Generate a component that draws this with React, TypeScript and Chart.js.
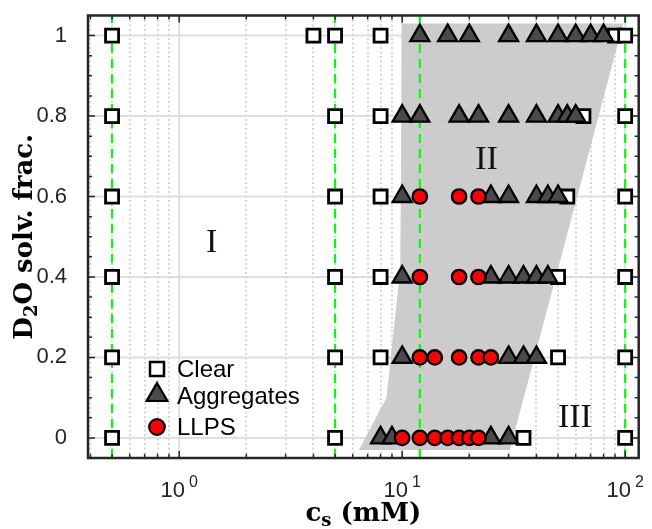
import React, { useEffect, useRef } from 'react';
import { Chart, registerables } from 'chart.js';

Chart.register(...registerables);

const X_MIN = 0.39;
const X_MAX = 115;
const Y_MIN = -0.05;
const Y_MAX = 1.05;

const d2oFractions = [0, 0.2, 0.4, 0.6, 0.8, 1];
const clearRows = [
  [0.5, 5, 35, 100],
  [0.5, 5, 8, 50, 100],
  [0.5, 5, 8, 50, 100],
  [0.5, 5, 8, 55, 100],
  [0.5, 5, 8, 65, 100],
  [0.5, 4, 5, 8, 90, 100],
];
const aggregateRows = [
  [8, 9, 25, 30],
  [10, 30, 35, 40],
  [10, 25, 30, 35, 40, 45],
  [10, 25, 30, 40, 45, 50],
  [10, 12, 18, 22, 30, 40, 50, 55, 60],
  [12, 16, 20, 30, 40, 50, 60, 70, 80],
];
const llpsRows = [
  [10, 12, 14, 16, 18, 20, 22],
  [12, 14, 18, 22, 25],
  [12, 18, 22],
  [12, 18, 22],
  [],
  [],
];
const boundaryLines = [0.5, 5, 12, 100];
const regionIIX = [6.4, 8.5, 9.8, 10, 98, 30.4];
const regionIIY = [-0.03, 0.1, 0.42, 1.03, 1.03, -0.03];
const xMajorTicks = [1, 10, 100];
const xTickExponents = ['0', '1', '2'];
const xMinorTicks = [0.4, 0.5, 0.6, 0.7, 0.8, 0.9, 2, 3, 4, 5, 6, 7, 8, 9, 20, 30, 40, 50, 60, 70, 80, 90];
const yTicks = [0, 0.2, 0.4, 0.6, 0.8, 1];
const yTickLabels = ['0', '0.2', '0.4', '0.6', '0.8', '1'];
const yMinorTicks = [0.05, 0.1, 0.15, 0.25, 0.3, 0.35, 0.45, 0.5, 0.55, 0.65, 0.7, 0.75, 0.85, 0.9, 0.95];
const regionLabels = ['I', 'II', 'III'];
const legendLabels = ['Clear', 'Aggregates', 'LLPS'];

// annotation anchors (data coordinates)
const REGION_LABEL_POS = [
  { x: 1.4, y: 0.49 },
  { x: 23.9, y: 0.696 },
  { x: 59.5, y: 0.055 },
];

const toPoints = (rows: number[][]) =>
  rows.flatMap((r, i) => r.map((x) => ({ x, y: d2oFractions[i] })));

const AXIS = '#262626';
const SANS = '"Liberation Sans", Arial, sans-serif';
const SERIF_B = '"DejaVu Serif", serif';

function drawTri(ctx: CanvasRenderingContext2D, x: number, y: number, r: number) {
  ctx.beginPath();
  ctx.moveTo(x, y - r);
  ctx.lineTo(x + 0.866 * r, y + 0.5 * r);
  ctx.lineTo(x - 0.866 * r, y + 0.5 * r);
  ctx.closePath();
}

const decorPlugin = {
  id: 'decor',
  beforeDatasetsDraw(chart: any) {
    const { ctx, chartArea: a, scales } = chart;
    const xs = scales.x;
    const ys = scales.y;
    ctx.save();
    ctx.beginPath();
    ctx.rect(a.left, a.top, a.right - a.left, a.bottom - a.top);
    ctx.clip();
    ctx.strokeStyle = '#cdcdcd';
    ctx.lineWidth = 1.6;
    ctx.setLineDash([2, 2.5]);
    for (const v of xMinorTicks) {
      const px = Math.round(xs.getPixelForValue(v));
      ctx.beginPath();
      ctx.moveTo(px, a.top);
      ctx.lineTo(px, a.bottom);
      ctx.stroke();
    }
    ctx.setLineDash([]);
    ctx.strokeStyle = '#dedede';
    ctx.lineWidth = 2;
    for (const v of xMajorTicks) {
      const px = xs.getPixelForValue(v);
      ctx.beginPath();
      ctx.moveTo(px, a.top);
      ctx.lineTo(px, a.bottom);
      ctx.stroke();
    }
    for (const v of yTicks) {
      const py = ys.getPixelForValue(v);
      ctx.beginPath();
      ctx.moveTo(a.left, py);
      ctx.lineTo(a.right, py);
      ctx.stroke();
    }
    ctx.restore();
  },
  afterDatasetsDraw(chart: any) {
    const { ctx, chartArea: a, scales } = chart;
    const xs = scales.x;
    const ys = scales.y;
    ctx.save();
    ctx.strokeStyle = AXIS;
    ctx.lineWidth = 1.5;
    const tickX = (v: number, len: number) => {
      const px = xs.getPixelForValue(v);
      ctx.beginPath();
      ctx.moveTo(px, a.bottom);
      ctx.lineTo(px, a.bottom - len);
      ctx.moveTo(px, a.top);
      ctx.lineTo(px, a.top + len);
      ctx.stroke();
    };
    const tickY = (v: number, len: number) => {
      const py = ys.getPixelForValue(v);
      ctx.beginPath();
      ctx.moveTo(a.left, py);
      ctx.lineTo(a.left + len, py);
      ctx.moveTo(a.right, py);
      ctx.lineTo(a.right - len, py);
      ctx.stroke();
    };
    xMinorTicks.forEach((v) => tickX(v, 4));
    xMajorTicks.forEach((v) => tickX(v, 7));
    yMinorTicks.forEach((v) => tickY(v, 4));
    yTicks.forEach((v) => tickY(v, 7));
    ctx.lineWidth = 2.5;
    ctx.strokeRect(a.left, a.top, a.right - a.left, a.bottom - a.top);

    // x tick labels 10^n
    ctx.fillStyle = AXIS;
    ctx.textBaseline = 'alphabetic';
    ctx.textAlign = 'left';
    xMajorTicks.forEach((v, i) => {
      const px = xs.getPixelForValue(v);
      ctx.font = `22px ${SANS}`;
      const wBase = ctx.measureText('10').width;
      ctx.font = `16px ${SANS}`;
      const wExp = ctx.measureText(xTickExponents[i]).width;
      const gap = 4;
      const x0 = px - (wBase + gap + wExp) / 2;
      ctx.font = `22px ${SANS}`;
      ctx.fillText('10', x0, a.bottom + 39);
      ctx.font = `16px ${SANS}`;
      ctx.fillText(xTickExponents[i], x0 + wBase + gap, a.bottom + 29);
    });

    // x axis title
    ctx.fillStyle = '#000';
    const midX = (a.left + a.right) / 2;
    ctx.font = `bold 26px ${SERIF_B}`;
    const wc = ctx.measureText('c').width;
    const wRest = ctx.measureText(' (mM)').width;
    ctx.font = `bold 18px ${SERIF_B}`;
    const ws = ctx.measureText('s').width;
    const tx0 = midX - (wc + ws + wRest) / 2;
    const tb = 521;
    ctx.font = `bold 26px ${SERIF_B}`;
    ctx.fillText('c', tx0, tb);
    ctx.font = `bold 18px ${SERIF_B}`;
    ctx.fillText('s', tx0 + wc, tb + 5);
    ctx.font = `bold 26px ${SERIF_B}`;
    ctx.fillText(' (mM)', tx0 + wc + ws, tb);

    // y axis title
    ctx.save();
    const midY = (a.top + a.bottom) / 2;
    ctx.translate(32, midY);
    ctx.rotate(-Math.PI / 2);
    ctx.font = `bold 26px ${SERIF_B}`;
    const wD = ctx.measureText('D').width;
    const wTail = ctx.measureText('O solv. frac.').width;
    ctx.font = `bold 18px ${SERIF_B}`;
    const w2 = ctx.measureText('2').width;
    const y0 = -(wD + w2 + wTail) / 2;
    ctx.font = `bold 26px ${SERIF_B}`;
    ctx.fillText('D', y0, 0);
    ctx.font = `bold 18px ${SERIF_B}`;
    ctx.fillText('2', y0 + wD, 5);
    ctx.font = `bold 26px ${SERIF_B}`;
    ctx.fillText('O solv. frac.', y0 + wD + w2, 0);
    ctx.restore();

    // region labels
    ctx.font = `34px "Liberation Serif", serif`;
    ctx.textAlign = 'center';
    ctx.fillStyle = '#111';
    regionLabels.forEach((t, i) => {
      const p = REGION_LABEL_POS[i];
      ctx.fillText(t, xs.getPixelForValue(p.x), ys.getPixelForValue(p.y) + 11);
    });

    // legend
    const lx = a.left + 69;
    const rowsY = [369, 395, 427];
    ctx.lineWidth = 2.5;
    ctx.strokeStyle = '#000';
    ctx.fillStyle = '#fff';
    ctx.beginPath();
    ctx.rect(lx - 7, rowsY[0] - 7, 14, 14);
    ctx.fill();
    ctx.stroke();
    ctx.lineWidth = 2.2;
    ctx.fillStyle = '#4a4a4a';
    drawTri(ctx, lx, rowsY[1], 12);
    ctx.fill();
    ctx.stroke();
    ctx.fillStyle = '#ff0000';
    ctx.beginPath();
    ctx.arc(lx, rowsY[2], 7.8, 0, Math.PI * 2);
    ctx.fill();
    ctx.stroke();
    ctx.fillStyle = '#000';
    ctx.textAlign = 'left';
    ctx.font = `24px ${SANS}`;
    const baselines = [377, 404, 435];
    legendLabels.forEach((t, i) => ctx.fillText(t, lx + 20, baselines[i]));
    ctx.restore();
  },
};

export default function App() {
  const ref = useRef<HTMLCanvasElement | null>(null);
  useEffect(() => {
    if (!ref.current) return;
    const datasets: any[] = [
      {
        label: 'region II',
        data: regionIIX.map((x, i) => ({ x, y: regionIIY[i] })),
        fill: 'shape',
        backgroundColor: '#cccccc',
        borderWidth: 0,
        borderColor: 'rgba(0,0,0,0)',
        pointRadius: 0,
        tension: 0,
        order: 10,
      },
      ...boundaryLines.map((v) => ({
        label: 'boundary',
        data: [
          { x: v, y: Y_MIN },
          { x: v, y: Y_MAX },
        ],
        borderColor: '#00ff00',
        borderWidth: 2.2,
        borderDash: [9, 6],
        pointRadius: 0,
        fill: false,
        order: 6,
      })),
      {
        label: legendLabels[0],
        data: toPoints(clearRows),
        showLine: false,
        pointStyle: 'rect',
        pointRadius: 9.2,
        pointBackgroundColor: '#ffffff',
        pointBorderColor: '#000000',
        pointBorderWidth: 2.8,
        order: 3,
      },
      {
        label: legendLabels[1],
        data: toPoints(aggregateRows),
        showLine: false,
        pointStyle: 'triangle',
        pointRadius: 11,
        pointBackgroundColor: '#4a4a4a',
        pointBorderColor: '#000000',
        pointBorderWidth: 2.3,
        order: 2,
      },
      {
        label: legendLabels[2],
        data: toPoints(llpsRows),
        showLine: false,
        pointStyle: 'circle',
        pointRadius: 7.2,
        pointBackgroundColor: '#ff0000',
        pointBorderColor: '#000000',
        pointBorderWidth: 2.3,
        order: 1,
      },
    ];
    const chart = new Chart(ref.current, {
      type: 'line',
      data: { datasets },
      options: {
        animation: false,
        responsive: false,
        devicePixelRatio: 1,
        events: [],
        layout: { padding: { top: 15.5, right: 6, left: 0, bottom: 0 } },
        plugins: { legend: { display: false }, tooltip: { enabled: false } },
        scales: {
          x: {
            type: 'logarithmic',
            min: X_MIN,
            max: X_MAX,
            grid: { display: false },
            border: { display: false },
            ticks: { display: false },
            afterFit: (s: any) => {
              s.height = 71;
              s.paddingLeft = 0;
              s.paddingRight = 0;
            },
          },
          y: {
            type: 'linear',
            min: Y_MIN,
            max: Y_MAX,
            grid: { display: false },
            border: { display: false },
            afterBuildTicks: (s: any) => {
              s.ticks = yTicks.map((v) => ({ value: v }));
            },
            ticks: {
              padding: 13,
              color: AXIS,
              font: { family: '"Liberation Sans", Arial, sans-serif', size: 22 },
              callback: (v: any) => {
                const i = yTicks.indexOf(Number(v));
                return i >= 0 ? yTickLabels[i] : '';
              },
            },
            afterFit: (s: any) => {
              s.width = 88;
              s.paddingTop = 0;
              s.paddingBottom = 0;
            },
          },
        },
      } as any,
      plugins: [decorPlugin],
    });
    return () => chart.destroy();
  }, []);
  return (
    <div style={{ position: 'fixed', left: 0, top: 0, width: 652, height: 529, background: '#fff' }}>
      <canvas ref={ref} width={652} height={529} style={{ display: 'block', width: 652, height: 529 }} />
    </div>
  );
}
